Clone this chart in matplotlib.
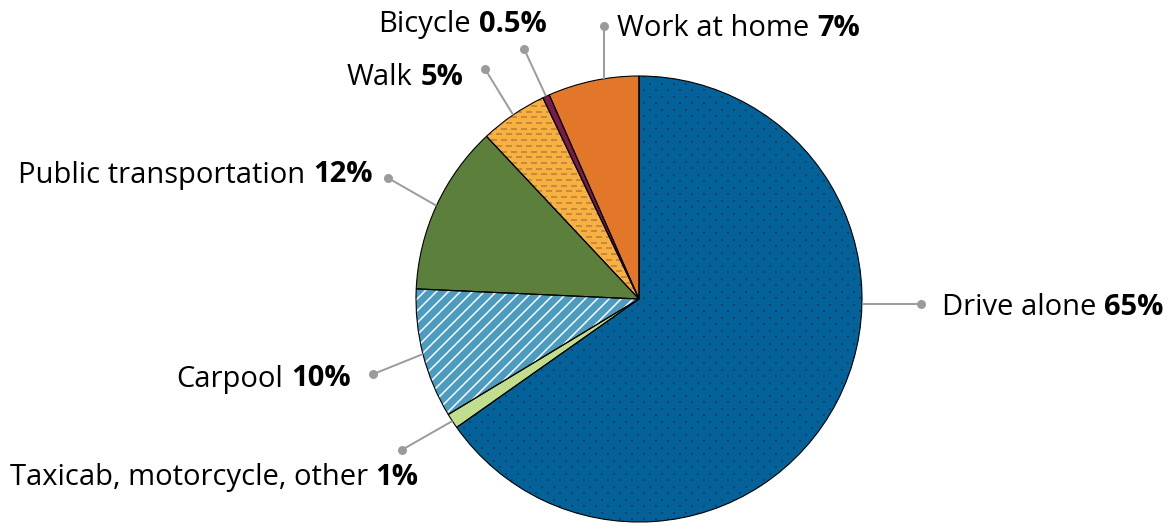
import numpy as np
import matplotlib
matplotlib.use("Agg")
import matplotlib.pyplot as plt
from matplotlib.collections import LineCollection

# ---------------- data ----------------
modes = ["Drive alone", "Taxicab, motorcycle, other", "Carpool",
         "Public transportation", "Walk", "Bicycle", "Work at home"]
shares = [65.3, 1.1, 9.4, 12.3, 4.9, 0.5, 6.6]
pct_labels = ["65%", "1%", "10%", "12%", "5%", "0.5%", "7%"]

# ---------------- style ----------------
colors = ["#03629a", "#c1dd8e", "#4b9cbe", "#5c7f3b", "#f6b140", "#7c1b4b", "#e27629"]
W, H = 1170, 529
CX, CY, R = 639, 299, 223          # pie centre/radius (pixels, y from top)
FS = 21
FONT = "Open Sans"

def Y(ypx):
    return H - ypx

# label layout: dot position (px), text anchor x, baseline y, side, leader mode
label_layout = {
    "Drive alone": dict(dot=(921, 304), tx=941.5, ty=315, side="left", mode="h"),
    "Taxicab, motorcycle, other": dict(dot=(401.7, 450), tx=418.5, ty=485, side="right", mode="mid"),
    "Carpool": dict(dot=(372.7, 374.3), tx=350.5, ty=386.5, side="right", mode="mid"),
    "Public transportation": dict(dot=(388, 178), tx=372.5, ty=182.5, side="right", mode="mid"),
    "Walk": dict(dot=(485, 69), tx=463.5, ty=85, side="right", mode="mid"),
    "Bicycle": dict(dot=(524, 48.7), tx=546.5, ty=32, side="right", mode="mid"),
    "Work at home": dict(dot=(604, 26), tx=617, ty=36, side="left", mode="v"),
}

fig = plt.figure(figsize=(W / 100, H / 100), dpi=100)
ax = fig.add_axes([0, 0, 1, 1])
ax.set_xlim(0, W)
ax.set_ylim(0, H)
ax.axis("off")

center = (CX, Y(CY))
wedges, _ = ax.pie(shares, colors=colors, startangle=90, counterclock=False,
                   center=center, radius=R, frame=True,
                   wedgeprops=dict(edgecolor="none", linewidth=0))
ax.set_xlim(0, W)
ax.set_ylim(0, H)
ax.axis("off")

# ---- textures ----
# Drive alone: small dark dots on a staggered lattice
w0 = wedges[0]
xs, ys = [], []
row = 0
for yy in np.arange(center[1] - R - 10, center[1] + R + 10, 6.5):
    off = 6.0 if row % 2 else 0.0
    for xx in np.arange(center[0] - R - 12 + off, center[0] + R + 12, 12.0):
        xs.append(xx)
        ys.append(yy)
    row += 1
sc = ax.scatter(xs, ys, s=3.6, marker="s", color="#1b4060", linewidths=0, zorder=2)
sc.set_clip_path(w0)

# Carpool: white diagonal lines
w2 = wedges[2]
segs = []
for c in np.arange(-2 * R - 40, 2 * R + 40, 12.0):
    x1 = center[0] - R - 20
    x2 = center[0] + R + 20
    segs.append([(x1, center[1] + (x1 - center[0]) + c), (x2, center[1] + (x2 - center[0]) + c)])
lc = LineCollection(segs, colors="white", linewidths=1.1, zorder=2)
ax.add_collection(lc)
lc.set_clip_path(w2)

# Walk: horizontal dashes in darker orange
w4 = wedges[4]
segs = []
row = 0
for yy in np.arange(center[1] - R, center[1] + R + 6, 5.7):
    off = 5.0 if row % 2 else 0.0
    for xx in np.arange(center[0] - R - 10 + off, center[0] + 10, 10.0):
        segs.append([(xx, yy), (xx + 6, yy)])
    row += 1
lc2 = LineCollection(segs, colors="#c4843a", linewidths=1.25, zorder=2)
ax.add_collection(lc2)
lc2.set_clip_path(w4)

# outlines on top
ax.pie(shares, colors=["none"] * len(shares), startangle=90, counterclock=False,
       center=center, radius=R, frame=True,
       wedgeprops=dict(edgecolor="black", linewidth=0.8, zorder=3, fill=False))
ax.set_xlim(0, W)
ax.set_ylim(0, H)
ax.axis("off")

# ---- leader lines and labels ----
fig.canvas.draw()
renderer = fig.canvas.get_renderer()
gap = 7.8
for i, name in enumerate(modes):
    lay = label_layout[name]
    dx, dy = lay["dot"][0], Y(lay["dot"][1])
    if lay["mode"] == "mid":
        w = wedges[i]
        ang = np.deg2rad((w.theta1 + w.theta2) / 2)
        ax_, ay_ = center[0] + R * np.cos(ang), center[1] + R * np.sin(ang)
    elif lay["mode"] == "h":
        sgn = 1 if dx > center[0] else -1
        ax_ = center[0] + sgn * np.sqrt(R ** 2 - (dy - center[1]) ** 2)
        ay_ = dy
    else:
        sgn = 1 if dy > center[1] else -1
        ax_ = dx
        ay_ = center[1] + sgn * np.sqrt(R ** 2 - (dx - center[0]) ** 2)
    ax.plot([ax_, dx], [ay_, dy], color="#9b9b9b", lw=1.4, zorder=4,
            solid_capstyle="butt")
    ax.plot([dx], [dy], "o", color="#9b9b9b", ms=6.5, mec="none", zorder=5)

    ty = Y(lay["ty"])
    if lay["side"] == "left":
        t1 = ax.text(lay["tx"], ty, name, fontsize=FS, family=FONT,
                     ha="left", va="baseline", color="black")
        bb = t1.get_window_extent(renderer)
        ax.text(lay["tx"] + bb.width + gap, ty, pct_labels[i], fontsize=FS,
                family=FONT, fontweight="bold", ha="left", va="baseline", color="black")
    else:
        t2 = ax.text(lay["tx"], ty, pct_labels[i], fontsize=FS, family=FONT,
                     fontweight="bold", ha="right", va="baseline", color="black")
        bb = t2.get_window_extent(renderer)
        ax.text(lay["tx"] - bb.width - gap, ty, name, fontsize=FS, family=FONT,
                ha="right", va="baseline", color="black")

fig.savefig("out.png", dpi=100)
